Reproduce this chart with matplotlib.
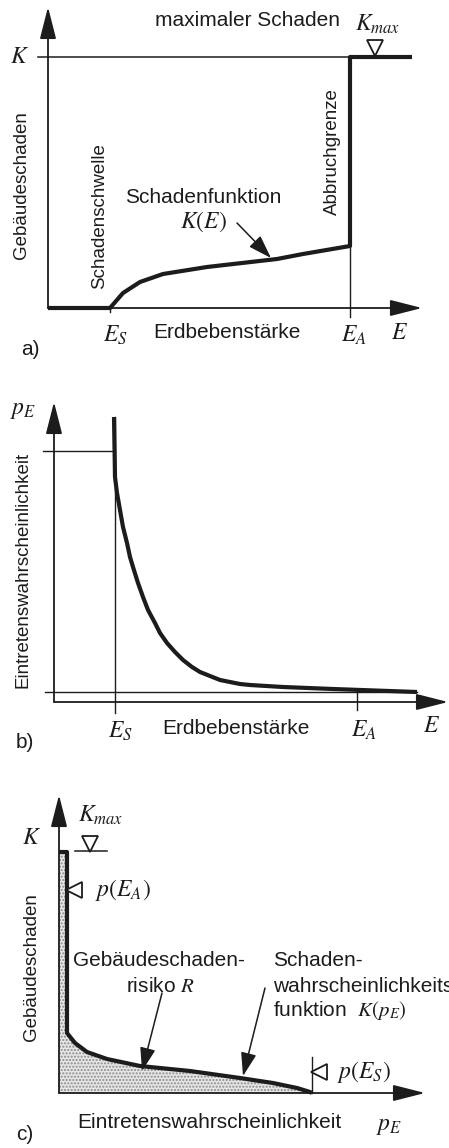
import matplotlib
matplotlib.use("Agg")
import matplotlib.pyplot as plt
import numpy as np

plt.rcParams['font.family'] = ['Liberation Sans', 'DejaVu Sans']
plt.rcParams['mathtext.fontset'] = 'stix'

INK = '#1c1c1c'

# ---------------- data (schematic units, origin at axis crossing) ----------
# panel a: damage function K(E)
E_S = 62
E_A = 302
K_MAX = 251
a_curve_E = [0, 62, 75, 92, 115, 159, 229, 255, 302, 302, 364]
a_curve_K = [0, 0, 15, 26, 34, 41, 49, 54, 62, 251, 251]

# panel b: occurrence probability p_E(E)
b_E_S = 61
b_E_A = 303
b_curve_E = [60, 61, 63, 66, 69, 73, 76, 79, 84, 89, 94, 101, 106, 113, 121,
             129, 138, 146, 156, 166, 176, 186, 196, 229, 279, 363]
b_curve_p = [285, 225, 209, 192, 175, 159, 145, 135, 119, 105, 92, 79, 69, 59, 50,
             42, 35, 30, 26, 22, 20, 18, 17, 15, 13, 10]
b_p_ES = 251
b_p_EA = 10

# panel c: damage-probability function K(p_E)
c_curve_p = [0, 8, 8, 16, 28, 48, 81, 131, 181, 214, 238, 251, 253]
c_curve_K = [241, 241, 60, 50, 41, 34, 27, 22, 15, 10, 5, 1, 0]
c_p_ES = 253


def panel(top, height):
    H = 1148.0
    return fig.add_axes([0, 1 - (top + height) / H, 1, height / H])


def axis_arrow(ax, start, end):
    ax.annotate('', xy=end, xytext=start,
                arrowprops=dict(arrowstyle='-|>,head_length=1.1,head_width=0.28',
                                lw=1.3, color=INK, shrinkA=0, shrinkB=0,
                                mutation_scale=18))


def pointer(ax, start, end):
    ax.annotate('', xy=end, xytext=start,
                arrowprops=dict(arrowstyle='-|>,head_length=0.9,head_width=0.3',
                                lw=1.1, color=INK, shrinkA=0, shrinkB=0,
                                mutation_scale=16))


SANS = 15
VSANS = 13.5
MATH = 17

fig = plt.figure(figsize=(4.49, 11.48), dpi=100)

# ======================= panel a =======================
ax = panel(0, 380)
ax.set_xlim(-48, 401)
ax.set_ylim(-72, 308)
ax.axis('off')
axis_arrow(ax, (0, 0), (0, 301))
axis_arrow(ax, (0, 0), (374, 0))
ax.plot([-10, E_A], [K_MAX, K_MAX], color=INK, lw=1.1)
ax.plot([E_A, E_A], [K_MAX, -9], color=INK, lw=1.0)
ax.plot([E_S, E_S], [0, -4], color=INK, lw=1.0)
ax.plot(a_curve_E, a_curve_K, color=INK, lw=3.0, solid_joinstyle='round',
        solid_capstyle='butt')
ax.plot([327], [K_MAX + 9], marker='v', ms=11, mfc='white', mec=INK, mew=1.3)
ax.text(107, 288, 'maximaler Schaden', fontsize=SANS, ha='left', va='center', color=INK)
ax.text(307, 284, r'$K_{max}$', fontsize=MATH, ha='left', va='center', color=INK)
ax.text(-28, 251, r'$K$', fontsize=MATH, ha='center', va='center', color=INK)
ax.text(-26, 123, 'Gebäudeschaden', fontsize=VSANS, rotation=90, ha='center', va='center', color=INK)
ax.text(52, 92, 'Schadenschwelle', fontsize=VSANS, rotation=90, ha='center', va='center', color=INK)
ax.text(284, 156, 'Abbruchgrenze', fontsize=VSANS, rotation=90, ha='center', va='center', color=INK)
ax.text(77, 110, 'Schadenfunktion', fontsize=SANS, ha='left', va='center', color=INK)
ax.text(132, 86, r'$K(E)$', fontsize=MATH, ha='left', va='center', color=INK)
pointer(ax, (189, 85), (223, 50))
ax.text(67, -27, r'$E_S$', fontsize=MATH, ha='center', va='center', color=INK)
ax.text(179, -25, 'Erdbebenstärke', fontsize=SANS, ha='center', va='center', color=INK)
ax.text(306, -27, r'$E_A$', fontsize=MATH, ha='center', va='center', color=INK)
ax.text(352, -25, r'$E$', fontsize=MATH, ha='center', va='center', color=INK)
ax.text(-18, -42, 'a)', fontsize=SANS, ha='center', va='center', color=INK)

# ======================= panel b =======================
ax = panel(380, 390)
ax.set_xlim(-54, 395)
ax.set_ylim(-68, 322)
ax.axis('off')
axis_arrow(ax, (0, 0), (0, 300))
axis_arrow(ax, (0, 0), (394, 0))
ax.plot([-11, b_E_S], [b_p_ES, b_p_ES], color=INK, lw=1.0)
ax.plot([b_E_S, b_E_S], [285, -11], color=INK, lw=1.0)
ax.plot([-9, 363], [b_p_EA, b_p_EA], color=INK, lw=1.0)
ax.plot([b_E_A, b_E_A], [12, -8], color=INK, lw=1.0)
ax.plot(b_curve_E, b_curve_p, color=INK, lw=3.0, solid_capstyle='butt',
        solid_joinstyle='round')
ax.text(-31, 292, r'$p_E$', fontsize=MATH, ha='center', va='center', color=INK)
ax.text(-31, 132, 'Eintretenswahrscheinlichkeit', fontsize=VSANS, rotation=90,
        ha='center', va='center', color=INK)
ax.text(66, -29, r'$E_S$', fontsize=MATH, ha='center', va='center', color=INK)
ax.text(182, -26, 'Erdbebenstärke', fontsize=SANS, ha='center', va='center', color=INK)
ax.text(310, -28, r'$E_A$', fontsize=MATH, ha='center', va='center', color=INK)
ax.text(378, -24, r'$E$', fontsize=MATH, ha='center', va='center', color=INK)
ax.text(-29, -40, 'b)', fontsize=SANS, ha='center', va='center', color=INK)

# ======================= panel c =======================
ax = panel(770, 378)
ax.set_xlim(-59, 390)
ax.set_ylim(-55, 323)
ax.axis('off')
fx = [0] + c_curve_p + [0]
fy = [0] + c_curve_K + [0]
ax.fill(fx, fy, facecolor='#e6e6e6', edgecolor='#8a8a8a', hatch='.....', lw=0)
axis_arrow(ax, (0, 0), (0, 298))
axis_arrow(ax, (0, 0), (366, 0))
ax.plot(c_curve_p, c_curve_K, color=INK, lw=3.0, solid_capstyle='butt',
        solid_joinstyle='round')
ax.plot([c_p_ES, c_p_ES], [0, 36], color=INK, lw=1.0)
ax.plot([16, 48], [242, 242], color=INK, lw=1.1)
ax.plot([31], [249], marker='v', ms=11, mfc='white', mec=INK, mew=1.3)
ax.plot([15], [203], marker='<', ms=11, mfc='white', mec=INK, mew=1.3)
ax.plot([260], [21], marker='<', ms=11, mfc='white', mec=INK, mew=1.3)
ax.text(19, 278, r'$K_{max}$', fontsize=MATH, ha='left', va='center', color=INK)
ax.text(-27, 255, r'$K$', fontsize=MATH, ha='center', va='center', color=INK)
ax.text(36, 203, r'$p(E_A)$', fontsize=MATH, ha='left', va='center', color=INK)
ax.text(278, 21, r'$p(E_S)$', fontsize=MATH, ha='left', va='center', color=INK)
ax.text(-27, 126, 'Gebäudeschaden', fontsize=VSANS, rotation=90, ha='center', va='center', color=INK)
ax.text(14, 133, 'Gebäudeschaden-', fontsize=SANS, ha='left', va='center', color=INK)
ax.text(67, 106, r'risiko $R$', fontsize=SANS, ha='left', va='center', color=INK)
ax.text(214, 133, 'Schaden-', fontsize=SANS, ha='left', va='center', color=INK)
ax.text(214, 106, 'wahrscheinlichkeits', fontsize=SANS, ha='left', va='center', color=INK)
ax.text(214, 82, r'funktion  $K(p_E)$', fontsize=SANS, ha='left', va='center', color=INK)
pointer(ax, (103, 100), (83, 22))
pointer(ax, (206, 105), (184, 17))
ax.text(18, -30, 'Eintretenswahrscheinlichkeit', fontsize=SANS, ha='left', va='center', color=INK)
ax.text(330, -33, r'$p_E$', fontsize=MATH, ha='center', va='center', color=INK)
ax.text(-34, -42, 'c)', fontsize=SANS, ha='center', va='center', color=INK)

fig.savefig('out.png', dpi=100, facecolor='white')
